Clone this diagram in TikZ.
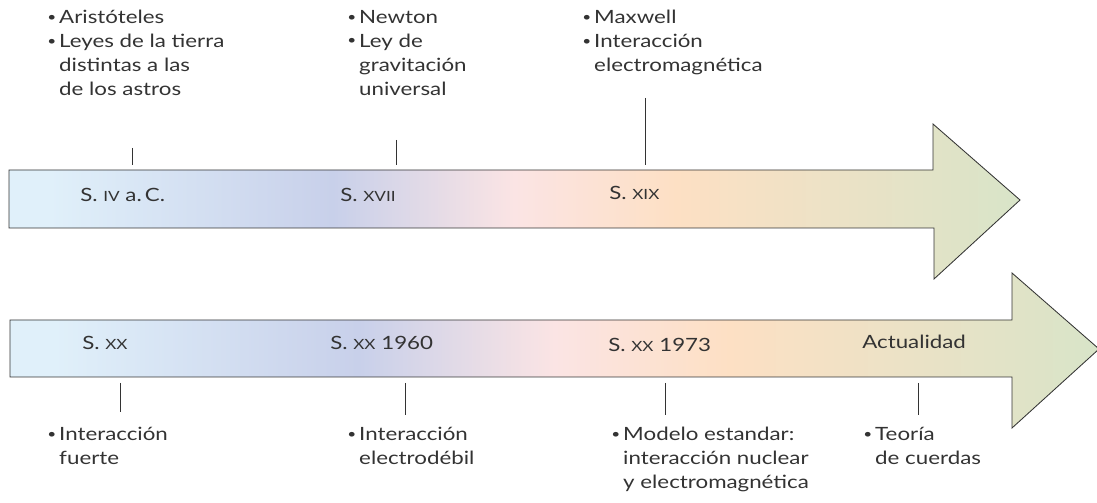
\documentclass[tikz,border=0pt]{standalone}
\usepackage{fontspec}
\setmainfont[FakeStretch=1.22]{Lato}
\usetikzlibrary{positioning}
\definecolor{txt}{HTML}{333333}
\definecolor{cA}{HTML}{E0F0FA}
\definecolor{cB}{HTML}{C8D0EA}
\definecolor{cC}{HTML}{FBE4E4}
\definecolor{cD}{HTML}{FDE0C4}
\definecolor{cE}{HTML}{D8E4C8}
\pgfdeclarehorizontalshading{siglos}{100bp}{color(0bp)=(cA); color(27bp)=(cA);
  color(41bp)=(cB); color(50bp)=(cC); color(58bp)=(cD); color(75bp)=(cE); color(100bp)=(cE)}
\newcommand\rmn[1]{{\fontsize{10}{10}\selectfont #1}}
\newcommand\bl{\makebox[8.5pt][l]{\raisebox{.25ex}{\fontsize{9}{9}\selectfont\textbullet}}}
\newcommand\ind{\hspace*{8.5pt}}
\tikzset{
  flecha/.style={draw=txt, line width=.6pt, shading=siglos},
  nota/.style={anchor=north west, inner sep=0pt, align=left, text=txt,
    font=\fontsize{13}{17}\selectfont},
  fecha/.style={anchor=west, inner sep=0pt, text=txt, font=\fontsize{13}{14}\selectfont},
  marca/.style={draw=txt, line width=.6pt}
}
\begin{document}
\begin{tikzpicture}[x=.025cm,y=-.025cm]
\useasboundingbox (0,0) rectangle (1097,503);
% flechas
\path[flecha] (9,170) -- (933,170) -- (933,124) -- (1020,200)
   -- (934,279) -- (934,228) -- (9,228) -- cycle;
\path[flecha] (10,320) -- (1012,320) -- (1012,273) -- (1099,349)
   -- (1012,428) -- (1012,377) -- (10,377) -- cycle;
% fechas
\node[fecha] (f1) at (80,195)  {S. \rmn{IV} a.\,C.};
\node[fecha] (f2) at (340,195) {S. \rmn{XVII}};
\node[fecha] (f3) at (609,193) {S. \rmn{XIX}};
\node[fecha] (f4) at (82,343)  {S. \rmn{XX}};
\node[fecha] (f5) at (330,343) {S. \rmn{XX} 1960};
\node[fecha] (f6) at (608,345) {S. \rmn{XX} 1973};
\node[fecha] (f7) at (862,342) {Actualidad};
% notas
\node[nota] (n1) at (47,10)  {\bl Aristóteles\\\bl Leyes de la tierra\\\ind distintas a las\\\ind de los astros};
\node[nota] (n2) at (347,10) {\bl Newton\\\bl Ley de\\\ind gravitación\\\ind universal};
\node[nota] (n3) at (582,10) {\bl Maxwell\\\bl Interacción\\\ind electromagnética};
\node[nota] (n4) at (47,427)  {\bl Interacción\\\ind fuerte};
\node[nota] (n5) at (347,427) {\bl Interacción\\\ind electrodébil};
\node[nota] (n6) at (611,427) {\bl Modelo estandar:\\\ind interacción nuclear\\\ind y electromagnética};
\node[nota] (n7) at (863,427) {\bl Teoría\\\ind de cuerdas};
% marcas
\coordinate (a1) at (132,148); \coordinate (b1) at (132,165);
\coordinate (a2) at (396,140); \coordinate (b2) at (396,165);
\coordinate (a3) at (645,98);  \coordinate (b3) at (645,165);
\coordinate (a4) at (120,383); \coordinate (b4) at (120,412);
\coordinate (a5) at (405,383); \coordinate (b5) at (405,415);
\coordinate (a6) at (665,383); \coordinate (b6) at (665,415);
\coordinate (a7) at (918,383); \coordinate (b7) at (918,415);
\draw[marca] (a1) -- (b1) (a2) -- (b2) (a3) -- (b3) (a4) -- (b4)
   (a5) -- (b5) (a6) -- (b6) (a7) -- (b7);
\end{tikzpicture}
\end{document}
